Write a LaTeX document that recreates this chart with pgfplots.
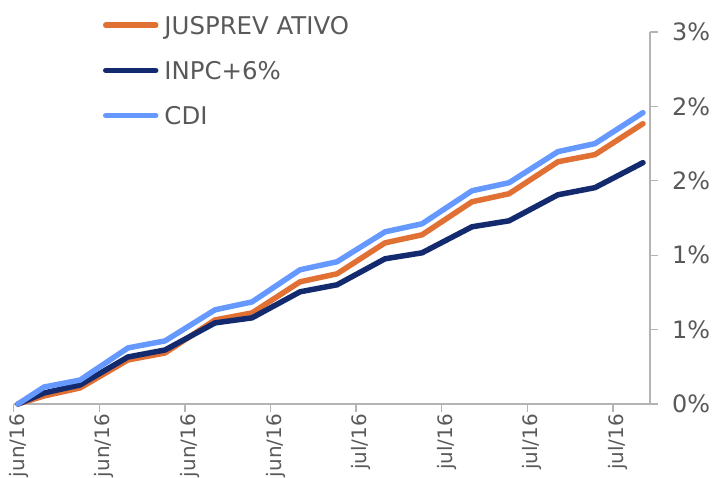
\documentclass[border=0pt]{standalone}
\usepackage{fontspec}
\setmainfont{DejaVu Sans}
\usepackage{pgfplots}
\usepackage{pgfplotstable}
\pgfplotsset{compat=1.18}

\definecolor{jusprev}{RGB}{224,112,52}
\definecolor{inpc}{RGB}{20,42,110}
\definecolor{cdi}{RGB}{102,153,255}
\definecolor{axgray}{RGB}{180,180,180}
\definecolor{txtgray}{RGB}{89,89,89}

% rentabilidade acumulada (%), x em semanas desde o inicio
\pgfplotstableread{
x      jusprev  inpc   cdi
0.050  0.000    0.000  0.000
0.354  0.054    0.074  0.114
0.775  0.108    0.128  0.161
1.335  0.296    0.316  0.377
1.768  0.343    0.363  0.424
2.352  0.565    0.545  0.633
2.784  0.612    0.579  0.686
3.345  0.821    0.754  0.902
3.777  0.875    0.801  0.956
4.338  1.083    0.976  1.157
4.770  1.137    1.016  1.211
5.354  1.359    1.191  1.433
5.786  1.413    1.231  1.487
6.358  1.628    1.406  1.696
6.790  1.676    1.454  1.750
7.351  1.884    1.622  1.958
}\rentab

\begin{document}
\begin{tikzpicture}
\clip (-13.7bp,-74bp) rectangle (702.3bp,404bp);
\begin{axis}[
    scale only axis,
    width=636.3bp, height=372bp,
    xmin=0, xmax=7.433,
    ymin=0, ymax=2.5,
    clip=false,
    axis x line*=bottom,
    axis y line*=right,
    axis line style={axgray, line width=1.3bp},
    tick align=outside,
    major tick length=8bp,
    tick style={axgray, line width=1.3bp},
    xtick={0,1,2,3,4,5,6,7},
    xticklabels={jun/16,jun/16,jun/16,jun/16,jul/16,jul/16,jul/16,jul/16},
    ytick={0,0.5,1,1.5,2,2.5},
    yticklabels={0\%,1\%,1\%,2\%,2\%,3\%},
    x tick label style={rotate=90, anchor=east, inner sep=0pt, xshift=-2bp, yshift=-5bp,
        font=\fontsize{20}{24}\selectfont, text=txtgray},
    y tick label style={anchor=west, inner sep=0pt, xshift=14bp,
        font=\fontsize{24}{28}\selectfont, text=txtgray},
    legend style={at={(0.140,1.043)}, anchor=north west, draw=none, fill=none,
        font=\fontsize{24.5}{29}\selectfont, text=txtgray,
        row sep=27.2bp, inner sep=0pt,
        nodes={inner sep=0pt, text height=18bp, text depth=0bp},
        /tikz/every odd column/.append style={column sep=6bp}},
    legend cell align=left,
    legend image code/.code={\draw[#1] (0bp,0bp) -- (50bp,0bp);},
    every axis plot/.append style={line width=5.5bp, line cap=round, line join=round},
]
\addplot[jusprev] table[x=x, y=jusprev] {\rentab};
\addlegendentry{JUSPREV ATIVO}
\addplot[inpc] table[x=x, y=inpc] {\rentab};
\addlegendentry{INPC+6\%}
\addplot[cdi] table[x=x, y=cdi] {\rentab};
\addlegendentry{CDI}
\end{axis}
\end{tikzpicture}
\end{document}
